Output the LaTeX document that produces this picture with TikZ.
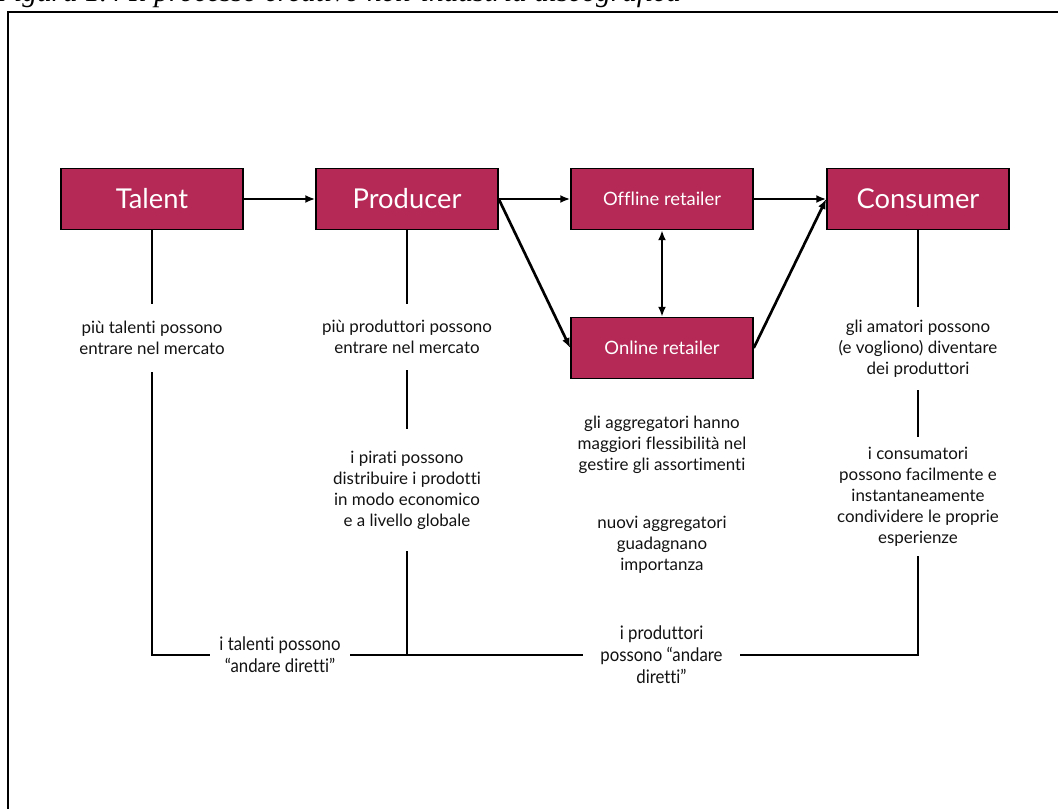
\documentclass[tikz,border=0pt]{standalone}
\usepackage{fontspec}
\setmainfont{Lato}[Ligatures={TeX,NoCommon}]
\newfontfamily\captionfont{Liberation Serif}
\newfontfamily\narrowfont{Lato}[FakeStretch=0.9,Ligatures={TeX,NoCommon}]
\usetikzlibrary{arrows.meta}
\definecolor{boxred}{RGB}{180,41,86}
\definecolor{notetext}{RGB}{18,18,18}
\begin{document}
\begin{tikzpicture}[x=0.75pt,y=-0.75pt,
  stage/.style={draw=black, line width=1.1pt, fill=boxred, text=white,
    minimum width=136.5pt, minimum height=45.75pt, inner sep=0pt},
  bigstage/.style={stage, font=\fontsize{20.5}{24}\selectfont},
  smallstage/.style={stage, font=\fontsize{13.8}{16}\selectfont},
  note/.style={align=center, text=notetext, inner sep=0pt,
    font=\fontsize{12.7}{15.75}\selectfont},
  footnote/.style={align=center, text=notetext, inner sep=0pt,
    font=\narrowfont\fontsize{14}{16.5}\selectfont},
  flow/.style={line width=2pt, -{Latex[length=7.5pt,width=6pt]}},
  both/.style={line width=2pt, {Latex[length=7.5pt,width=6pt]}-{Latex[length=7.5pt,width=6pt]}},
  link/.style={line width=2pt, line join=miter}
]
\useasboundingbox (0,0) rectangle (1058,809);

% caption and frame
\node[anchor=base west, inner sep=0pt,
  font=\captionfont\itshape\fontsize{22}{24}\selectfont] (caption) at (-4,2)
  {Figura 1.4 Il processo creativo nell’industria discografica};
\draw[line width=1.5pt] (8,12) rectangle (1080,830);

% value chain
\node[bigstage] (talent) at (152,199) {Talent};
\node[bigstage] (producer) at (407,199) {Producer};
\node[smallstage] (offline) at (662,199) {Offline retailer};
\node[smallstage] (online) at (662,348) {Online retailer};
\node[bigstage] (consumer) at (918,199) {Consumer};

\draw[flow] (talent.east) -- (producer.west);
\draw[flow] (producer.east) -- (offline.west);
\draw[flow] (producer.east) -- (online.west);
\draw[both] (offline.south) -- (online.north);
\draw[flow] (offline.east) -- (consumer.west);
\draw[flow] (online.east) -- (consumer.west);

% effects on each stage
\node[note, minimum height=51pt] (t1) at (152,338)
  {più talenti possono\\entrare nel mercato};
\node[note, minimum height=49.5pt] (p1) at (407,337)
  {più produttori possono\\entrare nel mercato};
\node[note, minimum height=91.5pt] (p2) at (407,490)
  {i pirati possono\\distribuire i prodotti\\in modo economico\\e a livello globale};
\node[note, minimum height=62pt] (c1) at (918,348.5)
  {gli amatori possono\\(e vogliono) diventare\\dei produttori};
\node[note, minimum height=89pt] (c2) at (918,496.5)
  {i consumatori\\possono facilmente e\\instantaneamente\\condividere le proprie\\esperienze};
\node[note] (a1) at (662,445)
  {gli aggregatori hanno\\maggiori flessibilità nel\\gestire gli assortimenti};
\node[note] (a2) at (662,545)
  {nuovi aggregatori\\guadagnano\\importanza};

% going direct
\node[footnote, minimum width=105pt] (b1) at (280,655)
  {i talenti possono\\“andare diretti”};
\node[footnote, minimum width=117.75pt] (b2) at (661.5,655)
  {i produttori\\possono “andare\\diretti”};
\coordinate (tcorner) at (152,655);
\coordinate (pjoin) at (407,655);
\coordinate (ccorner) at (918,655);

\draw[link] (talent.south) -- (t1.north);
\draw[link] (t1.south) -- (tcorner) -- (b1.west);
\draw[link] (producer.south) -- (p1.north);
\draw[link] (p1.south) -- (p2.north);
\draw[link] (p2.south) -- (pjoin);
\draw[link] (b1.east) -- (b2.west);
\draw[link] (consumer.south) -- (c1.north);
\draw[link] (c1.south) -- (c2.north);
\draw[link] (c2.south) -- (ccorner) -- (b2.east);
\end{tikzpicture}
\end{document}
